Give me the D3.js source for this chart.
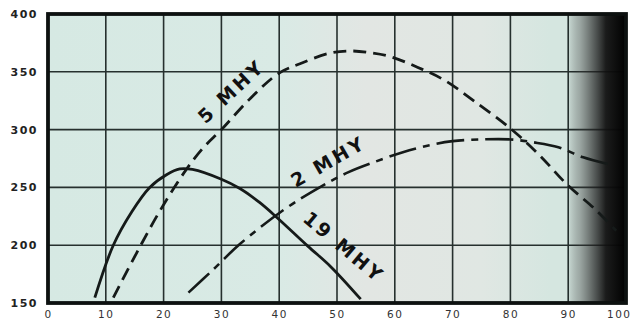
<!DOCTYPE html>
<html>
<head>
<meta charset="utf-8">
<script src="https://cdn.jsdelivr.net/npm/d3@7"></script>
<style>
html,body{margin:0;padding:0;background:#fff;}
svg{display:block;}
</style>
</head>
<body>
<svg id="chart" width="632" height="322"></svg>
<script>
// ---- data ----
const xTicks = [0,10,20,30,40,50,60,70,80,90,100];
const yTicks = [150,200,250,300,350,400];

const mhy19X = [8.1,11.3,14.5,17.6,20.5,22.8,25,30,33.2,36.6,39.6,45,49,54.1];
const mhy19Y = [154.6,200,229,250,261,266,265.5,257,249,237,224,199,181,153.3];

const mhy5X = [11.3,15.3,19.4,24,27,30,35,40,43.6,48.5,52.3,55.8,59.3,63.9,68.6,73.9,80,85,89.7,94.9,98.3];
const mhy5Y = [154.6,193,230,266,285,300,327,349,357,365.8,368,366.4,363,354,342.7,324,301,278,253,230,212.5];

const mhy2X = [24.3,28.6,33.2,40.9,47,51.9,58,61.4,66,70,75,80,84,88.3,92.6,97.1];
const mhy2Y = [159,179,201,231,250,263,274.7,280.5,286.5,290,291.5,291.5,289,284.8,276,270];

const curveLabels = ["5 MHY","2 MHY","19 MHY"];

// ---- layout ----
const svg = d3.select("#chart");
const L = 48, R = 626, T = 14, B = 303;
const x = d3.scaleLinear().domain([0,100]).range([L,R]);
const y = d3.scaleLinear().domain([150,400]).range([B,T]);

const defs = svg.append("defs");
const bg = defs.append("linearGradient").attr("id","bg").attr("x1","0").attr("x2","1").attr("y1","0").attr("y2","0");
bg.append("stop").attr("offset","0%").attr("stop-color","#d6e9e3");
bg.append("stop").attr("offset","40%").attr("stop-color","#d9eae5");
bg.append("stop").attr("offset","55%").attr("stop-color","#e2e6e3");
bg.append("stop").attr("offset","75%").attr("stop-color","#e0e7e3");
bg.append("stop").attr("offset","87%").attr("stop-color","#d5e6e0");
bg.append("stop").attr("offset","100%").attr("stop-color","#d5e6e0");

const dark = defs.append("linearGradient").attr("id","dark").attr("x1","0").attr("x2","1").attr("y1","0").attr("y2","0");
dark.append("stop").attr("offset","0%").attr("stop-color","#000").attr("stop-opacity",0.05);
dark.append("stop").attr("offset","20%").attr("stop-color","#333").attr("stop-opacity",0.35);
dark.append("stop").attr("offset","45%").attr("stop-color","#222").attr("stop-opacity",0.7);
dark.append("stop").attr("offset","65%").attr("stop-color","#111").attr("stop-opacity",0.95);
dark.append("stop").attr("offset","100%").attr("stop-color","#000").attr("stop-opacity",1);

svg.append("rect").attr("x",L).attr("y",T).attr("width",R-L).attr("height",B-T).attr("fill","url(#bg)");

// grid
const gridColor = "#26302e";
svg.append("g").selectAll("line").data(xTicks.slice(1,-1)).join("line")
  .attr("x1",d=>x(d)).attr("x2",d=>x(d)).attr("y1",T).attr("y2",B)
  .attr("stroke",gridColor).attr("stroke-width",1.6);
svg.append("g").selectAll("line").data(yTicks.slice(1,-1)).join("line")
  .attr("y1",d=>y(d)).attr("y2",d=>y(d)).attr("x1",L).attr("x2",R)
  .attr("stroke",gridColor).attr("stroke-width",1.6);

// right-side scan darkening
svg.append("rect").attr("x",x(90)).attr("y",T).attr("width",R-x(90)).attr("height",B-T).attr("fill","url(#dark)");

// curves
const line = d3.line().x(d=>x(d[0])).y(d=>y(d[1])).curve(d3.curveCatmullRom.alpha(0.5));
const zip = (a,b)=>a.map((v,i)=>[v,b[i]]);

const plot = svg.append("g");
plot.append("path").datum(zip(mhy19X,mhy19Y)).attr("d",line)
  .attr("fill","none").attr("stroke","#151a19").attr("stroke-width",2.8);
plot.append("path").datum(zip(mhy5X,mhy5Y)).attr("d",line)
  .attr("fill","none").attr("stroke","#151a19").attr("stroke-width",2.8)
  .attr("stroke-dasharray","13,7");
plot.append("path").datum(zip(mhy2X,mhy2Y)).attr("d",line)
  .attr("fill","none").attr("stroke","#151a19").attr("stroke-width",2.6)
  .attr("stroke-dasharray","28,7,7,7");

// frame
svg.append("rect").attr("x",L).attr("y",T).attr("width",R-L).attr("height",B-T)
  .attr("fill","none").attr("stroke","#0d1110").attr("stroke-width",3.8);

// axis tick labels
const axFont = "'DejaVu Sans', sans-serif";
const yAxis = d3.axisLeft(y).tickValues(yTicks).tickSize(0).tickPadding(10).tickFormat(d3.format("d"));
const ya = svg.append("g").attr("transform",`translate(${L},0)`).call(yAxis);
ya.select(".domain").remove();
ya.selectAll("text").attr("font-family",axFont).attr("font-size",11).attr("font-weight","bold")
  .attr("fill","#222").attr("letter-spacing",1.5);

const xAxis = d3.axisBottom(x).tickValues(xTicks).tickSize(0).tickPadding(8).tickFormat(d3.format("d"));
const xa = svg.append("g").attr("transform",`translate(0,${B})`).call(xAxis);
xa.select(".domain").remove();
xa.selectAll("text").attr("font-family",axFont).attr("font-size",10.5).attr("font-weight","normal")
  .attr("fill","#333").attr("letter-spacing",1.5);
xa.selectAll(".tick").filter(d=>d===100).select("text").attr("text-anchor","end").attr("dx",5);

// curve labels (pixel placement = layout)
const labelPos = [
  {cx:230, cy:92, rot:-43, w:80},
  {cx:327, cy:162, rot:-30, w:80},
  {cx:343, cy:246, rot:40, w:96}
];
const lg = svg.append("g");
curveLabels.forEach((t,i)=>{
  const p = labelPos[i];
  lg.append("text").text(t)
    .attr("transform",`translate(${p.cx},${p.cy}) rotate(${p.rot})`)
    .attr("text-anchor","middle").attr("dominant-baseline","central")
    .attr("font-family","'DejaVu Sans', sans-serif").attr("font-weight","bold")
    .attr("font-size",19).attr("fill","#111")
    .attr("textLength",p.w).attr("lengthAdjust","spacing");
});
</script>
</body>
</html>
